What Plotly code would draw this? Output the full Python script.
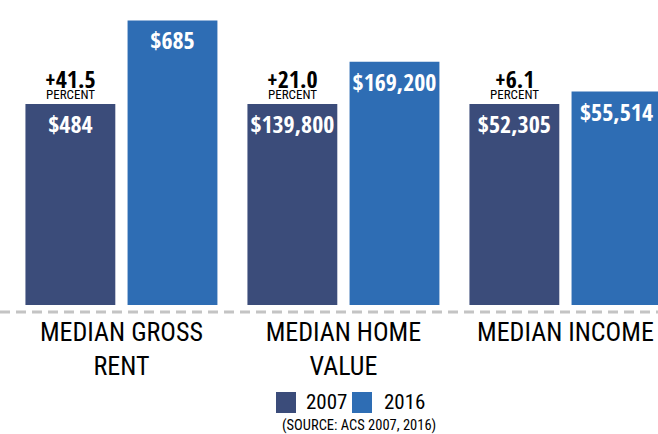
import plotly.graph_objects as go

categories = ["MEDIAN GROSS<br>RENT", "MEDIAN HOME<br>VALUE", "MEDIAN INCOME"]
years = ["2007", "2016"]
values_2007 = [484, 139800, 52305]
values_2016 = [685, 169200, 55514]
colors = ["#3b4c7a", "#2e6db4"]
source_text = "(SOURCE: ACS 2007, 2016)"

BOLD = "Open Sans Condensed, Roboto Condensed, sans-serif"
REG = "Roboto Condensed, sans-serif"

xs = list(range(len(categories)))
# each group is scaled so the 2007 bar has unit height
rel_2007 = [1.0 for _ in values_2007]
rel_2016 = [b / a for a, b in zip(values_2007, values_2016)]
pct = [(b / a - 1) * 100 for a, b in zip(values_2007, values_2016)]


def money(v):
    return "$" + f"{v:,}"


fig = go.Figure()
for name, rel, vals, col in [(years[0], rel_2007, values_2007, colors[0]),
                             (years[1], rel_2016, values_2016, colors[1])]:
    fig.add_trace(go.Bar(
        x=xs, y=rel, name=name, marker=dict(color=col, line=dict(width=0)),
        text=[money(v) for v in vals], textposition="inside",
        insidetextanchor="end", textangle=0,
        textfont=dict(family=BOLD, size=24, color="white", weight="bold"),
        hoverinfo="skip", showlegend=False,
    ))

annotations = []
for i, p in enumerate(pct):
    annotations.append(dict(
        x=i - 0.23, y=rel_2007[i], xref="x", yref="y",
        text=f"+{p:.1f}", showarrow=False, yanchor="middle", yshift=25.5,
        font=dict(family=BOLD, size=24, color="black", weight="bold")))
    annotations.append(dict(
        x=i - 0.23, y=rel_2007[i], xref="x", yref="y",
        text="PERCENT", showarrow=False, yanchor="middle", yshift=9,
        font=dict(family=REG, size=13, color="black")))

W = 658
shapes = [dict(type="line", xref="paper", yref="paper", x0=0, x1=1,
               y0=-7, y1=-7, ysizemode="pixel", yanchor=0,
               line=dict(color="#c4c4c4", width=3, dash="10px,6px"))]
leg_sq_x = [276, 352]
leg_tx_x = [326, 404]
for k in range(2):
    shapes.append(dict(type="rect", xref="paper", yref="paper",
                       x0=leg_sq_x[k] / W, x1=(leg_sq_x[k] + 20) / W,
                       y0=-108, y1=-87, ysizemode="pixel", yanchor=0,
                       line=dict(width=0), fillcolor=colors[k]))
    annotations.append(dict(x=leg_tx_x[k] / W, y=0, xref="paper", yref="paper",
                            text=years[k], showarrow=False, yanchor="middle",
                            yshift=-97,
                            font=dict(family=REG, size=21, color="black")))
annotations.append(dict(x=359 / W, y=0, xref="paper", yref="paper",
                        text=source_text, showarrow=False, yanchor="middle",
                        yshift=-120, font=dict(family=REG, size=14.5, color="black")))

fig.update_layout(
    width=658, height=434,
    margin=dict(l=0, r=0, t=0, b=129),
    paper_bgcolor="white", plot_bgcolor="white",
    barmode="group", bargap=0.08, bargroupgap=0.12,
    xaxis=dict(range=[-0.547, 2.417], tickvals=xs, ticktext=categories,
               showgrid=False, zeroline=False, showline=False, ticks="",
               tickfont=dict(family=REG, size=26, color="black"),
               ticklabelstandoff=9),
    yaxis=dict(range=[0, 1.517], visible=False),
    shapes=shapes, annotations=annotations,
)
fig.write_html("out.html", config={"displayModeBar": False},
               post_script="document.body.style.margin='0';")
